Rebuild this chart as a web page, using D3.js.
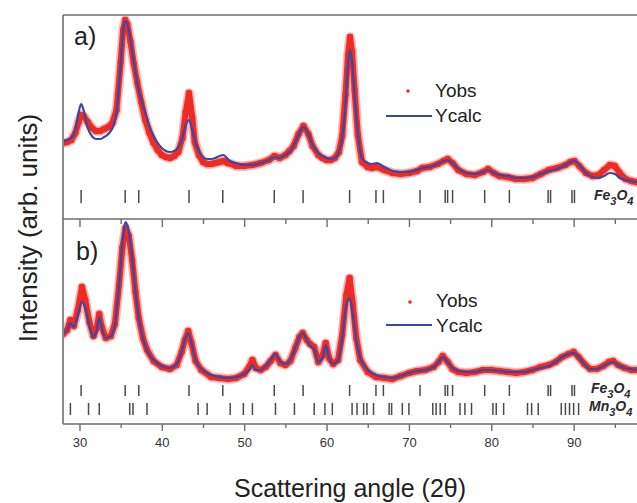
<!DOCTYPE html>
<html>
<head>
<meta charset="utf-8">
<script src="https://cdn.jsdelivr.net/npm/d3@7/dist/d3.min.js"></script>
<style>
  html, body { margin: 0; padding: 0; background: #fff; }
  svg { display: block; font-family: "Liberation Sans", Arial, sans-serif; }
</style>
</head>
<body>
<svg id="chart" width="637" height="503"></svg>
<script>
// Diffraction angle (2θ) grid and intensities (arb. units), panel a
const angleA = [28.0,28.5,29.0,29.5,29.9,30.2,30.5,31.0,31.5,32.0,32.5,33.0,33.5,34.0,34.5,35.0,35.3,35.55,35.8,36.2,36.6,37.0,37.5,38.0,38.5,39.0,39.5,40.0,40.5,41.0,41.5,42.0,42.5,42.9,43.3,43.7,44.0,44.5,45.0,45.5,46.0,46.5,47.0,47.5,48.0,48.5,49.0,50.0,51.0,52.0,53.0,53.7,54.3,55.0,55.5,56.0,56.6,57.2,57.8,58.3,59.0,59.5,60.0,60.5,61.0,61.5,61.9,62.3,62.6,62.85,63.1,63.4,63.8,64.3,65.0,65.5,66.1,67.0,68.0,69.0,70.0,71.0,71.6,72.5,73.5,74.2,74.7,75.3,76.0,77.0,78.0,79.0,79.6,80.3,81.0,82.0,83.0,84.0,85.0,86.0,87.0,88.0,89.0,89.6,90.1,90.7,91.5,92.3,93.0,93.7,94.4,95.0,95.6,96.3,97.0,97.6,98.2];
const calcA = [78,79,81,89,107,115,109,91,83,80,80,82,85,91,107,154,189,198,195,179,157,137,119,106,93,83,76,71,68,67,68,72,81,94,99,89,79,68,62,60,60,61,63,64,60,57,56,54,54,56,59,62,61,64,67,73,84,92,85,74,66,63,61,60,61,67,81,114,154,169,157,124,86,61,56,55,56,52,48,47,47,49,51,52,55,58,59,56,50,46,45,47,49,46,44,43,41,41,42,45,48,50,54,57,58,54,46,42,41,43,46,45,41,39,38,37,37];
const obsA  = [76,77,79,86,97,104,103,97,91,88,88,90,92,96,109,157,189,199,195,177,155,137,117,99,86,76,69,64,62,61,63,67,81,107,126,101,77,64,57,55,55,56,57,58,56,55,53,53,54,56,59,63,61,64,68,73,85,93,85,73,64,61,59,59,61,67,83,124,164,182,167,129,84,57,52,51,52,49,46,45,46,48,51,52,55,58,60,56,49,45,44,47,50,46,43,42,40,40,41,45,49,51,54,57,58,53,46,43,44,49,54,53,46,40,38,37,36];

// Panel b
const angleB = [28.0,28.5,28.9,29.3,29.8,30.3,30.7,31.2,31.7,32.1,32.4,32.7,33.2,33.8,34.3,34.8,35.2,35.6,36.0,36.4,36.8,37.2,37.7,38.2,39.0,40.0,41.0,41.8,42.4,42.8,43.2,43.6,44.1,44.8,46.0,47.0,48.0,49.0,50.0,50.6,51.0,51.4,52.0,52.6,53.2,53.8,54.4,55.0,55.6,56.2,56.7,57.1,57.6,58.0,58.5,59.0,59.5,59.9,60.3,60.8,61.4,61.9,62.4,62.8,63.2,63.6,64.1,65.0,66.0,67.0,68.0,69.0,70.0,71.0,72.0,73.0,73.6,74.1,74.7,75.3,76.0,77.0,78.0,79.0,80.0,81.0,82.0,83.0,84.0,85.0,86.0,87.0,87.8,88.6,89.4,90.0,90.6,91.3,92.0,92.8,93.6,94.3,94.8,95.4,96.2,97.0,97.8,98.2];
const calcB = [91,94,101,97,109,122,116,99,87,94,107,96,86,88,99,139,179,202,192,166,132,106,86,74,64,58,56,60,72,84,91,81,64,55,49,47,46,47,50,54,59,54,54,58,64,70,62,60,64,76,87,91,84,78,75,62,66,79,66,60,64,86,119,126,109,84,66,54,49,47,46,48,51,53,54,57,62,67,62,56,53,52,52,54,54,53,52,52,52,54,56,58,62,67,70,71,67,60,55,55,58,61,62,59,56,55,54,54];
const obsB  = [90,94,104,98,114,137,124,102,88,96,110,97,86,88,100,139,176,196,188,164,132,106,86,74,63,57,55,59,72,84,93,81,63,54,47,46,45,46,50,57,64,56,54,57,63,69,61,59,63,76,87,91,84,80,77,62,68,81,66,60,64,89,129,146,119,86,64,52,47,46,45,48,51,53,54,57,62,68,62,55,52,51,52,54,54,53,52,51,52,54,57,59,62,67,70,72,67,60,55,55,58,62,63,59,56,54,54,54];

// Reflection positions (2θ) of the indexed phases
const fe3o4Peaks = [30.2,35.55,37.2,43.3,47.4,53.65,57.15,62.8,66.0,66.9,71.35,74.4,74.7,75.3,79.2,82.2,86.9,87.2,89.8,90.1];
const mn3o4Peaks = [28.9,31.1,32.4,36.1,36.5,38.2,44.4,45.5,48.3,49.9,51.0,53.8,56.1,58.5,59.8,60.7,63.1,63.7,64.5,64.9,65.7,67.6,67.9,69.2,70.0,72.9,73.3,73.8,74.4,76.2,76.8,77.6,80.2,80.6,81.5,84.4,84.9,85.7,88.5,89.0,89.5,90.0,90.6];

const xMajor = [30,40,50,60,70,80,90];
const xMinor = [35,45,55,65,75,85,95];

const RED = "#ee2b24", BLUE = "#3b47a3", FRAME = "#6e6e6e", INK = "#333";

const svg = d3.select("#chart");
const x = d3.scaleLinear().domain([28, 100]).range([63, 656]);
const yA = d3.scaleLinear().domain([0, 204]).range([219, 15]);
const yB = d3.scaleLinear().domain([0, 205]).range([424, 219]);

// Axes: ticks hanging below the panel divider and below the bottom frame
function tickAxis(vals, size, labels) {
  const ax = d3.axisBottom(x).tickValues(vals).tickSizeInner(size).tickSizeOuter(0).tickPadding(7);
  if (!labels) ax.tickFormat("");
  return ax;
}
function styleAxis(g) {
  g.select(".domain").remove();
  g.selectAll(".tick line").attr("stroke", FRAME).attr("stroke-width", 1.4);
  g.selectAll(".tick text").attr("fill", INK).attr("font-size", 13)
    .attr("font-family", "\"Liberation Sans\", Arial, sans-serif");
}
svg.append("g").attr("transform", "translate(0,219)").call(tickAxis(xMajor, 8, false)).call(styleAxis);
svg.append("g").attr("transform", "translate(0,219)").call(tickAxis(xMinor, 5, false)).call(styleAxis);
svg.append("g").attr("transform", "translate(0,424)").call(tickAxis(xMajor, 7, true)).call(styleAxis);
svg.append("g").attr("transform", "translate(0,424)").call(tickAxis(xMinor, 4, false)).call(styleAxis);

// Frame
const frame = svg.append("g").attr("stroke", FRAME).attr("stroke-width", 1.6).attr("fill", "none");
frame.append("line").attr("x1", 63).attr("x2", 63).attr("y1", yA(204)).attr("y2", yB(0));
[yA(204), yA(0), yB(0)].forEach(yy =>
  frame.append("line").attr("x1", 63).attr("x2", x(100)).attr("y1", yy).attr("y2", yy));

function drawPanel(angles, obs, calc, y, clipId) {
  const [y0, y1] = y.range();
  svg.append("clipPath").attr("id", clipId).append("rect")
    .attr("x", 64).attr("y", y1 + 1).attr("width", 600).attr("height", y0 - y1 - 2);
  const g = svg.append("g").attr("clip-path", `url(#${clipId})`);
  const obsPts = angles.map((a, i) => [a, obs[i]]);
  const calcPts = angles.map((a, i) => [a, calc[i]]);
  const lineObs = d3.line().x(d => x(d[0])).y(d => y(d[1])).curve(d3.curveLinear);
  const lineCalc = d3.line().x(d => x(d[0])).y(d => y(d[1])).curve(d3.curveMonotoneX);
  // scattered observed points form a wide band; a faint halo gives its speckled edge
  g.append("path").attr("d", lineObs(obsPts)).attr("fill", "none")
    .attr("stroke", RED).attr("stroke-opacity", 0.35).attr("stroke-width", 9.5)
    .attr("stroke-linejoin", "round").attr("stroke-linecap", "round");
  g.append("path").attr("d", lineObs(obsPts)).attr("fill", "none")
    .attr("stroke", RED).attr("stroke-width", 6).attr("stroke-linejoin", "round").attr("stroke-linecap", "round");
  g.selectAll("circle.obs").data(obsPts).join("circle").attr("class", "obs")
    .attr("cx", d => x(d[0])).attr("cy", d => y(d[1])).attr("r", 3.2).attr("fill", RED);
  g.append("path").attr("d", lineCalc(calcPts)).attr("fill", "none")
    .attr("stroke", BLUE).attr("stroke-width", 2.2).attr("stroke-linejoin", "round");
}
drawPanel(angleA, obsA, calcA, yA, "clipA");
drawPanel(angleB, obsB, calcB, yB, "clipB");

// Reflection markers
function markers(peaks, top, bottom) {
  svg.append("g").selectAll("line").data(peaks).join("line")
    .attr("x1", d => x(d)).attr("x2", d => x(d)).attr("y1", top).attr("y2", bottom)
    .attr("stroke", "#4a4a4a").attr("stroke-width", 1.5);
}
markers(fe3o4Peaks, 190, 203);
markers(fe3o4Peaks, 385, 396);
markers(mn3o4Peaks, 403, 415);

function phaseLabel(xp, yp, el) {
  const t = svg.append("text").attr("x", xp).attr("y", yp)
    .attr("font-size", 14).attr("font-weight", "bold").attr("font-style", "italic").attr("fill", "#2a2a2a");
  t.append("tspan").text(el);
  t.append("tspan").attr("dy", 5).attr("font-size", 11).text("3");
  t.append("tspan").attr("dy", -5).text("O");
  t.append("tspan").attr("dy", 5).attr("font-size", 11).text("4");
}
phaseLabel(594, 200, "Fe");
phaseLabel(591, 393, "Fe");
phaseLabel(589, 411, "Mn");

// Legends
function legend(dotX, dotY, textX, obsBase, calcBase, lineY) {
  svg.append("circle").attr("cx", dotX).attr("cy", dotY).attr("r", 1.8).attr("fill", RED);
  svg.append("line").attr("x1", 386).attr("x2", 432).attr("y1", lineY).attr("y2", lineY)
    .attr("stroke", BLUE).attr("stroke-width", 2.2);
  svg.append("text").attr("x", textX).attr("y", obsBase).attr("font-size", 19).attr("fill", "#222").text("Yobs");
  svg.append("text").attr("x", textX).attr("y", calcBase).attr("font-size", 19).attr("fill", "#222").text("Ycalc");
}
legend(408, 91, 435, 97, 122, 116);
legend(410, 302, 436, 307, 332, 325);

// Panel letters
svg.append("text").attr("x", 74).attr("y", 45).attr("font-size", 25).attr("fill", "#222").text("a)");
svg.append("text").attr("x", 76).attr("y", 260).attr("font-size", 25).attr("fill", "#222").text("b)");

// Axis titles
svg.append("text").attr("x", 350).attr("y", 497).attr("text-anchor", "middle")
  .attr("font-size", 25).attr("fill", "#222").text("Scattering angle (2θ)");
svg.append("text").attr("transform", "translate(37,228) rotate(-90)").attr("text-anchor", "middle")
  .attr("font-size", 26).attr("fill", "#222").text("Intensity (arb. units)");
</script>
</body>
</html>
